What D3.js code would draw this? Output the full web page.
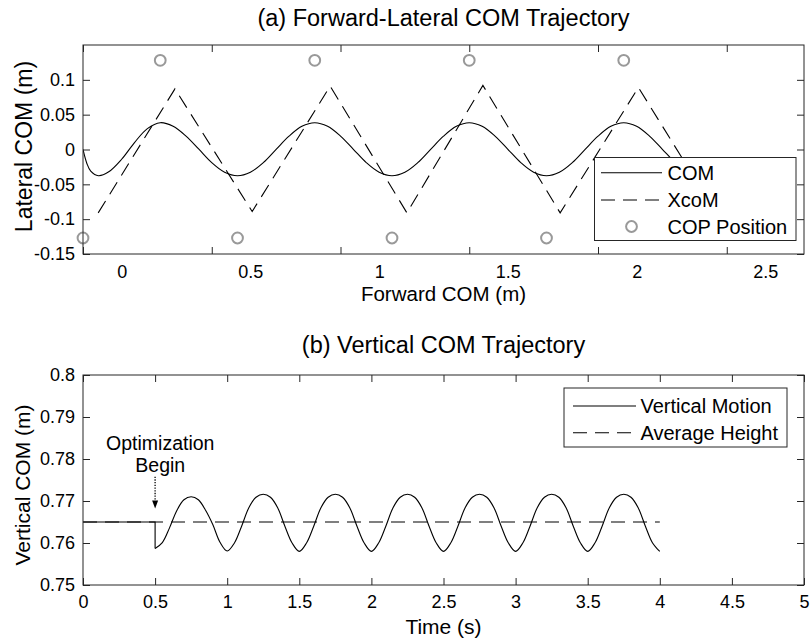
<!DOCTYPE html>
<html>
<head>
<meta charset="utf-8">
<script src="https://cdn.jsdelivr.net/npm/d3@7"></script>
<style>
  body { margin: 0; background: #fff; }
  svg text { font-family: "Liberation Sans", Arial, Helvetica, sans-serif; fill: #000; }
</style>
</head>
<body>
<svg id="chart" width="812" height="644"></svg>
<script>
// ---------- (a) forward-lateral trajectory ----------
const copX = [0, 0.3, 0.6, 0.9, 1.2, 1.5, 1.8, 2.1];
const copY = [-0.127, 0.128, -0.127, 0.128, -0.127, 0.128, -0.127, 0.128];

const comX = [0, 0.015, 0.03, 0.06, 0.10, 0.15, 0.20, 0.25, 0.30, 0.35, 0.40, 0.45, 0.50, 0.55,
  0.60, 0.65, 0.70, 0.75, 0.80, 0.85, 0.90, 0.95, 1.00, 1.05, 1.10, 1.15, 1.20, 1.25, 1.30, 1.35,
  1.40, 1.45, 1.50, 1.55, 1.60, 1.65, 1.70, 1.75, 1.80, 1.85, 1.90, 1.95, 2.00, 2.05, 2.10, 2.15,
  2.20, 2.25, 2.30, 2.35, 2.40];
const comY = [0, -0.020, -0.031, -0.0376, -0.032, -0.014, 0.010, 0.030, 0.0385, 0.0333, 0.0192, 0.0004, -0.0188, -0.0326,
  -0.0376, -0.0326, -0.0189, 0.0002, 0.0191, 0.0333, 0.0385, 0.0333, 0.0192, 0.0003, -0.0188, -0.0326, -0.0376, -0.0326, -0.0189, 0.0002,
  0.0191, 0.0333, 0.0385, 0.0333, 0.0192, 0.0003, -0.0188, -0.0326, -0.0376, -0.0326, -0.0189, 0.0002, 0.0191, 0.0333, 0.0385, 0.0333,
  0.0192, 0.0003, -0.0188, -0.0326, -0.0376];

const xcomX = [0.059, 0.357, 0.657, 0.960, 1.258, 1.553, 1.853, 2.157, 2.457];
const xcomY = [-0.091, 0.087, -0.089, 0.091, -0.091, 0.092, -0.091, 0.089, -0.090];

const fwdTicks = [0, 0.5, 1, 1.5, 2, 2.5];
const fwdTickLabels = ["0", "0.5", "1", "1.5", "2", "2.5"];
const fwdLabelShift = 0.15;
const latTicks = [-0.15, -0.1, -0.05, 0, 0.05, 0.1];
const latTickLabels = ["-0.15", "-0.1", "-0.05", "0", "0.05", "0.1"];

// ---------- (b) vertical trajectory ----------
const timeFlat = [0, 0.5, 0.5];
const heightFlat = [0.765, 0.765, 0.7587];

const timeOsc = [0.50, 0.55, 0.60, 0.65, 0.70, 0.75, 0.80, 0.85, 0.90, 0.95,
  1.00, 1.05, 1.10, 1.15, 1.20, 1.25, 1.30, 1.35, 1.40, 1.45,
  1.50, 1.55, 1.60, 1.65, 1.70, 1.75, 1.80, 1.85, 1.90, 1.95,
  2.00, 2.05, 2.10, 2.15, 2.20, 2.25, 2.30, 2.35, 2.40, 2.45,
  2.50, 2.55, 2.60, 2.65, 2.70, 2.75, 2.80, 2.85, 2.90, 2.95,
  3.00, 3.05, 3.10, 3.15, 3.20, 3.25, 3.30, 3.35, 3.40, 3.45,
  3.50, 3.55, 3.60, 3.65, 3.70, 3.75, 3.80, 3.85, 3.90, 3.95, 4.00];
const heightOsc = [0.7587, 0.7601, 0.7636, 0.7677, 0.7703, 0.7710, 0.7703, 0.7678, 0.7644, 0.7602,
  0.7581, 0.7600, 0.7640, 0.7684, 0.7709, 0.7716, 0.7709, 0.7684, 0.7640, 0.7600,
  0.7580, 0.7600, 0.7640, 0.7684, 0.7709, 0.7716, 0.7709, 0.7684, 0.7640, 0.7600,
  0.7580, 0.7600, 0.7640, 0.7684, 0.7709, 0.7716, 0.7709, 0.7684, 0.7640, 0.7600,
  0.7580, 0.7600, 0.7640, 0.7684, 0.7709, 0.7716, 0.7709, 0.7684, 0.7640, 0.7600,
  0.7580, 0.7600, 0.7640, 0.7684, 0.7709, 0.7716, 0.7709, 0.7684, 0.7640, 0.7600,
  0.7580, 0.7600, 0.7640, 0.7684, 0.7709, 0.7716, 0.7709, 0.7684, 0.7640, 0.7600, 0.7580];

const avgTime = [0, 4];
const avgHeight = [0.765, 0.765];

const timeTicks = [0, 0.5, 1, 1.5, 2, 2.5, 3, 3.5, 4, 4.5, 5];
const timeTickLabels = ["0", "0.5", "1", "1.5", "2", "2.5", "3", "3.5", "4", "4.5", "5"];
const heightTicks = [0.75, 0.76, 0.77, 0.78, 0.79, 0.8];
const heightTickLabels = ["0.75", "0.76", "0.77", "0.78", "0.79", "0.8"];

// annotation: arrow from tail to tip at the moment optimisation starts
const annoTime = 0.5;
const annoTail = 0.7758;
const annoTip = 0.7682;
const annoText = ["Optimization", "Begin"];
const annoTextTime = 0.536;
const annoTextHeight = [0.7822, 0.7770];

// ---------- layout ----------
const AX = "#262626";
const plotL = 83, plotR = 804;
const boxA = { t: 45, b: 254 };
const boxB = { t: 375, b: 585 };
const TICK = 7;
const dash = "14,8";

const svg = d3.select("#chart");

function styleAxis(g, fs) {
  g.attr("font-family", null).attr("font-size", fs);
  g.select(".domain").remove();
  g.selectAll(".tick line").attr("stroke", AX).attr("stroke-width", 1);
  g.selectAll(".tick text").attr("fill", "#000");
}

// ================= (a) =================
const xA = d3.scaleLinear().domain([0, 2.8]).range([plotL, plotR]);
const yA = d3.scaleLinear().domain([-0.15, 0.15]).range([boxA.b, boxA.t]);
const gA = svg.append("g");

gA.append("g").attr("transform", `translate(0,${boxA.b})`)
  .call(d3.axisBottom(xA).tickValues(fwdTicks).tickSize(-TICK).tickFormat(""))
  .call(g => styleAxis(g, 18));
gA.append("g").attr("transform", `translate(0,${boxA.t})`)
  .call(d3.axisTop(xA).tickValues(fwdTicks).tickSize(-TICK).tickFormat(""))
  .call(g => styleAxis(g, 18));
gA.append("g").attr("transform", `translate(${plotL},0)`)
  .call(d3.axisLeft(yA).tickValues(latTicks).tickSize(-TICK).tickPadding(8).tickFormat((d, i) => latTickLabels[i]))
  .call(g => styleAxis(g, 18));
gA.append("g").attr("transform", `translate(${plotR},0)`)
  .call(d3.axisRight(yA).tickValues(latTicks).tickSize(-TICK).tickFormat(""))
  .call(g => styleAxis(g, 18));
// forward-position labels sit on the shifted origin
gA.append("g").attr("transform", `translate(0,${boxA.b})`)
  .call(d3.axisBottom(xA).tickValues(fwdTicks.map(v => v + fwdLabelShift)).tickSize(0).tickPadding(11)
    .tickFormat((d, i) => fwdTickLabels[i]))
  .call(g => styleAxis(g, 18));

svg.append("clipPath").attr("id", "clipA").append("rect")
  .attr("x", plotL).attr("y", boxA.t).attr("width", plotR - plotL).attr("height", boxA.b - boxA.t);

const plotA = gA.append("g").attr("clip-path", "url(#clipA)");

plotA.append("path")
  .attr("d", d3.line().x(i => xA(comX[i])).y(i => yA(comY[i])).curve(d3.curveCatmullRom.alpha(0.5))(d3.range(comX.length)))
  .attr("fill", "none").attr("stroke", "#000").attr("stroke-width", 1.1);

plotA.append("path")
  .attr("d", d3.line().x(i => xA(xcomX[i])).y(i => yA(xcomY[i]))(d3.range(xcomX.length)))
  .attr("fill", "none").attr("stroke", "#000").attr("stroke-width", 1.1).attr("stroke-dasharray", dash);

gA.append("g").selectAll("circle").data(d3.range(copX.length)).join("circle")
  .attr("cx", i => xA(copX[i])).attr("cy", i => yA(copY[i])).attr("r", 5.4)
  .attr("fill", "none").attr("stroke", "#999").attr("stroke-width", 2);

gA.append("rect").attr("x", plotL).attr("y", boxA.t).attr("width", plotR - plotL).attr("height", boxA.b - boxA.t)
  .attr("fill", "none").attr("stroke", AX).attr("stroke-width", 1);

// legend (a)
const legA = gA.append("g");
legA.append("rect").attr("x", 594.5).attr("y", 157.5).attr("width", 201.5).attr("height", 83)
  .attr("fill", "#fff").attr("stroke", AX).attr("stroke-width", 1);
legA.append("line").attr("x1", 601).attr("x2", 662).attr("y1", 172.7).attr("y2", 172.7)
  .attr("stroke", "#000").attr("stroke-width", 1.1);
legA.append("line").attr("x1", 601).attr("x2", 662).attr("y1", 200).attr("y2", 200)
  .attr("stroke", "#000").attr("stroke-width", 1.1).attr("stroke-dasharray", dash);
legA.append("circle").attr("cx", 631.5).attr("cy", 226.5).attr("r", 5.4)
  .attr("fill", "none").attr("stroke", "#999").attr("stroke-width", 2);
[["COM", 172.7], ["XcoM", 200], ["COP Position", 226.5]].forEach(([t, y]) => {
  legA.append("text").attr("x", 667.5).attr("y", y).attr("dy", "0.35em").attr("font-size", 20).text(t);
});

svg.append("text").attr("x", (plotL + plotR) / 2).attr("y", 26).attr("text-anchor", "middle")
  .attr("font-size", 23.5).text("(a) Forward-Lateral COM Trajectory");
svg.append("text").attr("x", (plotL + plotR) / 2).attr("y", 301).attr("text-anchor", "middle")
  .attr("font-size", 20.5).text("Forward COM (m)");
svg.append("text").attr("transform", `translate(32,${(boxA.t + boxA.b) / 2 - 3}) rotate(-90)`).attr("text-anchor", "middle")
  .attr("font-size", 23).text("Lateral COM (m)");

// ================= (b) =================
const xB = d3.scaleLinear().domain([0, 5]).range([plotL, plotR]);
const yB = d3.scaleLinear().domain([0.75, 0.8]).range([boxB.b, boxB.t]);
const gB = svg.append("g");

gB.append("g").attr("transform", `translate(0,${boxB.b})`)
  .call(d3.axisBottom(xB).tickValues(timeTicks).tickSize(-TICK).tickPadding(10).tickFormat((d, i) => timeTickLabels[i]))
  .call(g => styleAxis(g, 18));
gB.append("g").attr("transform", `translate(0,${boxB.t})`)
  .call(d3.axisTop(xB).tickValues(timeTicks).tickSize(-TICK).tickFormat(""))
  .call(g => styleAxis(g, 18));
gB.append("g").attr("transform", `translate(${plotL},0)`)
  .call(d3.axisLeft(yB).tickValues(heightTicks).tickSize(-TICK).tickPadding(8).tickFormat((d, i) => heightTickLabels[i]))
  .call(g => styleAxis(g, 18));
gB.append("g").attr("transform", `translate(${plotR},0)`)
  .call(d3.axisRight(yB).tickValues(heightTicks).tickSize(-TICK).tickFormat(""))
  .call(g => styleAxis(g, 18));

gB.append("path")
  .attr("d", d3.line().x(i => xB(avgTime[i])).y(i => yB(avgHeight[i]))(d3.range(avgTime.length)))
  .attr("fill", "none").attr("stroke", "#000").attr("stroke-width", 1.1).attr("stroke-dasharray", dash);
gB.append("path")
  .attr("d", d3.line().x(i => xB(timeFlat[i])).y(i => yB(heightFlat[i]))(d3.range(timeFlat.length)))
  .attr("fill", "none").attr("stroke", "#000").attr("stroke-width", 1.1);
gB.append("path")
  .attr("d", d3.line().x(i => xB(timeOsc[i])).y(i => yB(heightOsc[i])).curve(d3.curveCatmullRom.alpha(0.5))(d3.range(timeOsc.length)))
  .attr("fill", "none").attr("stroke", "#000").attr("stroke-width", 1.1);

gB.append("rect").attr("x", plotL).attr("y", boxB.t).attr("width", plotR - plotL).attr("height", boxB.b - boxB.t)
  .attr("fill", "none").attr("stroke", AX).attr("stroke-width", 1);

// annotation
const ax = xB(annoTime);
gB.append("line").attr("x1", ax).attr("x2", ax).attr("y1", yB(annoTail)).attr("y2", yB(annoTip) - 7)
  .attr("stroke", "#000").attr("stroke-width", 1.3).attr("stroke-dasharray", "1.3,1.4");
gB.append("path")
  .attr("d", `M${ax - 3},${yB(annoTip) - 8} L${ax + 3},${yB(annoTip) - 8} L${ax},${yB(annoTip)} Z`)
  .attr("fill", "#000");
annoText.forEach((t, i) => {
  gB.append("text").attr("x", xB(annoTextTime)).attr("y", yB(annoTextHeight[i])).attr("text-anchor", "middle")
    .attr("font-size", 19.5).text(t);
});

// legend (b)
const legB = gB.append("g");
legB.append("rect").attr("x", 564).attr("y", 388).attr("width", 223).attr("height", 59)
  .attr("fill", "#fff").attr("stroke", AX).attr("stroke-width", 1);
legB.append("line").attr("x1", 573).attr("x2", 636).attr("y1", 406).attr("y2", 406)
  .attr("stroke", "#000").attr("stroke-width", 1.1);
legB.append("line").attr("x1", 573).attr("x2", 636).attr("y1", 432.7).attr("y2", 432.7)
  .attr("stroke", "#000").attr("stroke-width", 1.1).attr("stroke-dasharray", dash);
[["Vertical Motion", 406], ["Average Height", 432.7]].forEach(([t, y]) => {
  legB.append("text").attr("x", 640.5).attr("y", y).attr("dy", "0.35em").attr("font-size", 20).text(t);
});

svg.append("text").attr("x", (plotL + plotR) / 2).attr("y", 353).attr("text-anchor", "middle")
  .attr("font-size", 23.5).text("(b) Vertical COM Trajectory");
svg.append("text").attr("x", (plotL + plotR) / 2).attr("y", 634).attr("text-anchor", "middle")
  .attr("font-size", 21).text("Time (s)");
svg.append("text").attr("transform", `translate(30,${(boxB.t + boxB.b) / 2 + 5}) rotate(-90)`).attr("text-anchor", "middle")
  .attr("font-size", 21).text("Vertical COM (m)");
</script>
</body>
</html>
